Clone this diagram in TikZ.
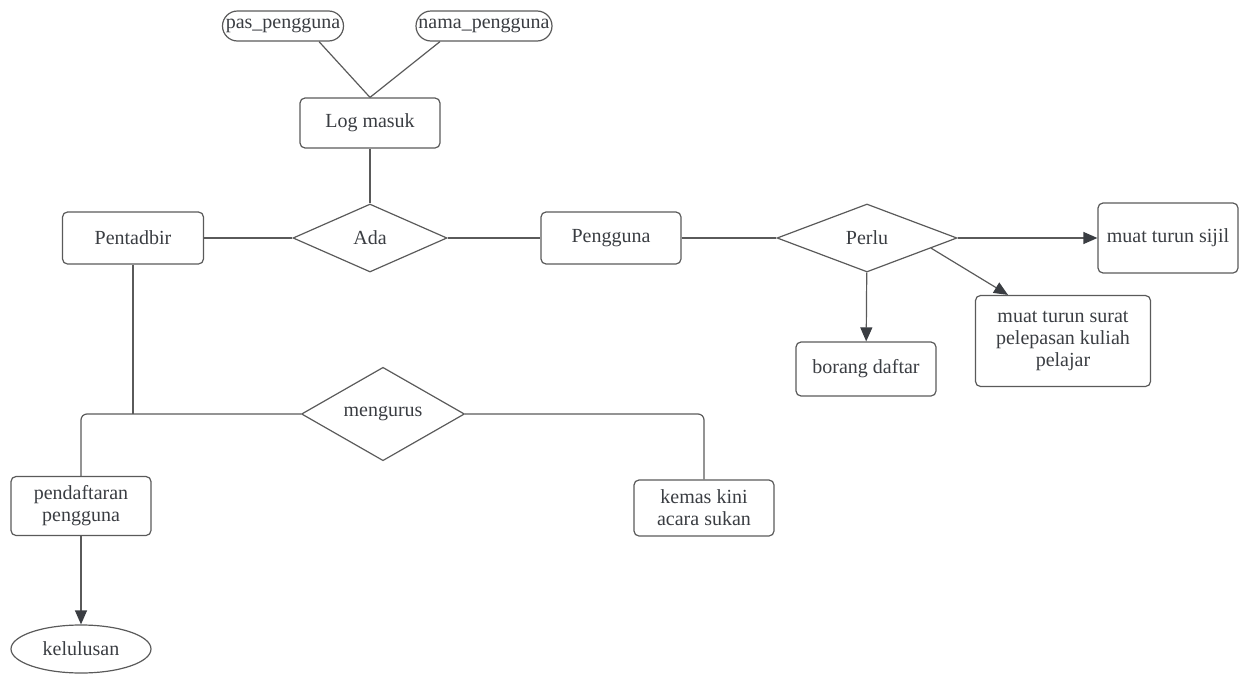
\documentclass[tikz,border=0pt]{standalone}
\usepackage{fontspec}
\setmainfont{Liberation Serif}
\usetikzlibrary{arrows.meta, shapes.geometric, shapes.misc}

\definecolor{inkgray}{HTML}{3A3D42}
\definecolor{linegray}{HTML}{5A5A5A}

\begin{document}
\begin{tikzpicture}[x=0.5pt, y=-0.5pt,
    every node/.style={text=inkgray, font=\fontsize{10}{11}\selectfont},
    entity/.style={draw=linegray, line width=0.6pt, rectangle, rounded corners=2.5pt,
        minimum width=70pt, minimum height=26pt, inner sep=1pt, align=center},
    relation/.style={draw=linegray, line width=0.6pt, diamond, inner sep=0pt,
        minimum width=77pt, minimum height=34pt},
    attrib/.style={draw=linegray, line width=0.6pt, rounded rectangle,
        minimum height=15pt, inner sep=1pt},
    link/.style={draw=linegray, line width=0.6pt},
    arr/.style={link, -{Triangle[length=7pt, width=6pt, color=inkgray]}}]
    %
    \useasboundingbox (0,0) rectangle (1244,675);
    %
    \node [attrib, minimum width=62.5pt] (pas) at (283,26) {pas\_pengguna};
    \node [attrib, minimum width=70pt] (nama) at (484,26) {nama\_pengguna};
    \node [entity, minimum height=25pt] (login) at (370,123) {Log masuk};
    \node [entity, minimum width=70.5pt] (admin) at (133,238) {Pentadbir};
    \node [relation] (ada) at (370,238) {Ada};
    \node [entity] (user) at (611,238) {Pengguna};
    \node [relation, minimum width=90pt] (perlu) at (867,238) {Perlu};
    \node [entity, minimum width=70pt, minimum height=35pt] (sijil) at (1168,238) {muat turun sijil};
    \node [entity, minimum height=27pt] (borang) at (866,369) {borang daftar};
    \node [entity, minimum width=87.5pt, minimum height=45.5pt] (surat) at (1063,341)
        {muat turun surat\\pelepasan kuliah\\pelajar};
    \node [relation, minimum width=81.5pt] (urus) at (383,414) {mengurus};
    \node [entity, minimum height=28pt] (kemas) at (704,508) {kemas kini\\acara sukan};
    \node [entity, minimum height=29.5pt] (daftar) at (81,506) {pendaftaran\\pengguna};
    \node [draw=linegray, line width=0.6pt, ellipse, inner sep=0pt,
        minimum width=70pt, minimum height=24pt] (lulus) at (81,649) {kelulusan};
    %
    \path [link] ([xshift=18pt]pas.south) -- (login.north);
    \path [link] ([xshift=-22pt]nama.south) -- (login.north);
    \path [link] (login) -- (ada);
    \path [link] (admin) -- (ada);
    \path [link] (ada) -- (user);
    \path [link] (user) -- (perlu);
    \path [arr] (perlu) -- (sijil);
    \path [arr] (perlu) -- (borang);
    \path [arr] (perlu.-9) -- ([xshift=-27.5pt]surat.north);
    %
    \path [link] (admin) -- (admin |- urus.west);
    \path [link, rounded corners=3pt] (urus.west) -| (daftar.north);
    \path [link, rounded corners=3pt] (urus.east) -| (kemas.north);
    \path [arr] (daftar) -- (lulus);
\end{tikzpicture}
\end{document}
